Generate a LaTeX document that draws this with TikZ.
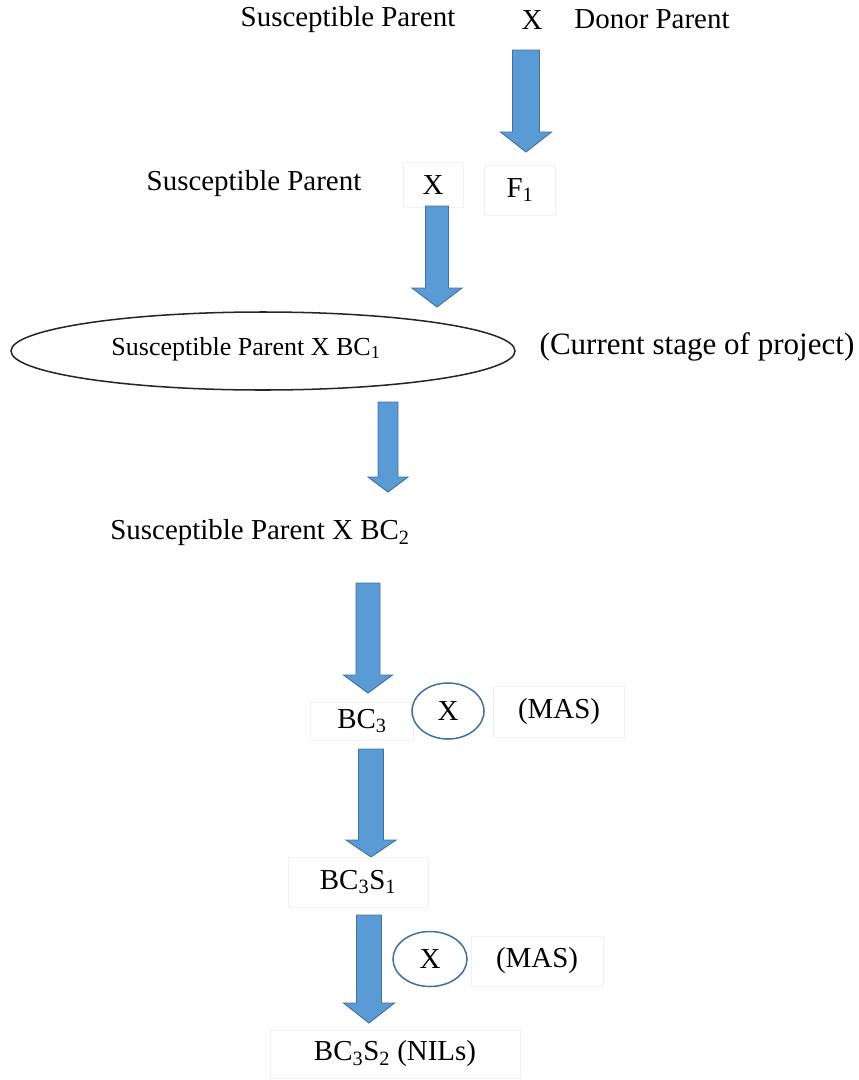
\documentclass[tikz,border=0pt]{standalone}
\usepackage{fontspec}
\setmainfont{Liberation Serif}
\usetikzlibrary{shapes.geometric}

\newlength\pxlen
\setlength\pxlen{0.03cm}
\definecolor{arrowblue}{RGB}{91,155,213}
\definecolor{edgeblue}{RGB}{65,113,156}

\tikzset{
  txt/.style={inner sep=0pt, font=\fontsize{24.7}{28}\selectfont},
  faintbox/.style={draw=black!5, line width=0.6pt},
  blockarrow/.style={fill=arrowblue, draw=edgeblue, line width=0.8pt, line join=miter},
  crossring/.style={ellipse, draw=edgeblue, line width=1.3pt, inner sep=0pt},
  stageoval/.style={ellipse, draw=black!85, line width=1.3pt, inner sep=0pt}
}

% thick down arrow: centre x, top, head start, tip, half shaft, half head
\newcommand{\downblock}[6]{%
  \draw[blockarrow] ({#1-#5},#2) -- ({#1+#5},#2) -- ({#1+#5},#3) -- ({#1+#6},#3)
    -- (#1,#4) -- ({#1-#6},#3) -- ({#1-#5},#3) -- cycle;}

\begin{document}
\begin{tikzpicture}[x=\pxlen, y=-\pxlen]
    \useasboundingbox (0,0) rectangle (859,1080);

    % first cross
    \node[txt] (susone) at (348,20) {Susceptible Parent};
    \node[txt] (crossone) at (532,20) {X};
    \node[txt] (donor) at (652,19) {Donor Parent};
    \downblock{526}{50}{132}{152}{13.5}{25.5}

    % backcross with F1
    \node[txt] (sustwo) at (254,184) {Susceptible Parent};
    \node[txt, faintbox, minimum width=60\pxlen, minimum height=45\pxlen] (crosstwo) at (433,185) {X};
    \node[txt, faintbox, minimum width=71\pxlen, minimum height=50\pxlen] (fone) at (520,190) {F\textsubscript{1}};
    \downblock{437}{206}{288}{307}{11.5}{25}

    % current stage
    \node[stageoval, minimum width=504\pxlen, minimum height=78\pxlen] (oval) at (263,351) {};
    \node[txt, font=\fontsize{22.2}{26}\selectfont] (bcone) at (246,349) {Susceptible Parent X BC\textsubscript{1}};
    \node[txt, font=\fontsize{26.5}{30}\selectfont] (stage) at (697,347) {(Current stage of project)};
    \downblock{388}{402}{477}{492}{10}{20}

    % second backcross
    \node[txt] (bctwo) at (260,533) {Susceptible Parent X BC\textsubscript{2}};
    \downblock{368}{583}{675}{693}{12}{24.5}

    % BC3 selfing
    \node[txt, faintbox, minimum width=103\pxlen, minimum height=38\pxlen] (bcthree) at (362,721) {BC\textsubscript{3}};
    \node[txt, crossring, minimum width=72\pxlen, minimum height=56\pxlen] (selfone) at (448,711) {X};
    \node[txt, faintbox, minimum width=131\pxlen, minimum height=51\pxlen] (masone) at (559,712) {(MAS)};
    \downblock{371}{749}{840}{857}{12.5}{25}

    % BC3S1 selfing
    \node[txt, faintbox, minimum width=140\pxlen, minimum height=50\pxlen] (bcsone) at (358,882) {BC\textsubscript{3}S\textsubscript{1}};
    \node[txt, crossring, minimum width=74\pxlen, minimum height=55\pxlen] (selftwo) at (430,959) {X};
    \node[txt, faintbox, minimum width=132\pxlen, minimum height=50\pxlen] (mastwo) at (537,961) {(MAS)};
    \downblock{369}{915}{1003}{1023}{12.5}{25.5}

    % NILs
    \node[txt, faintbox, minimum width=250\pxlen, minimum height=48\pxlen] (nils) at (395,1054) {BC\textsubscript{3}S\textsubscript{2} (NILs)};
\end{tikzpicture}
\end{document}
